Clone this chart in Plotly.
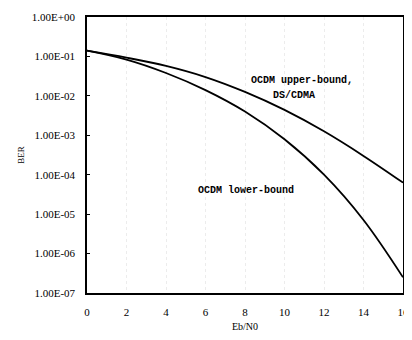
import plotly.graph_objects as go

ebno = [0, 2, 4, 6, 8, 10, 12, 14, 16]
upper_ber = [1.4e-1, 9.3e-2, 5.75e-2, 3.0e-2, 1.26e-2, 4.4e-3, 1.26e-3, 3.0e-4, 6.3e-5]
lower_ber = [1.4e-1, 8.3e-2, 3.8e-2, 1.4e-2, 4.0e-3, 7.9e-4, 1.0e-4, 7.1e-6, 2.5e-7]

y_tickvals = [1e0, 1e-1, 1e-2, 1e-3, 1e-4, 1e-5, 1e-6, 1e-7]
y_ticktext = ["1.00E+00", "1.00E-01", "1.00E-02", "1.00E-03",
              "1.00E-04", "1.00E-05", "1.00E-06", "1.00E-07"]
x_tickvals = [0, 2, 4, 6, 8, 10, 12, 14, 16]

fig = go.Figure()
fig.add_trace(go.Scatter(x=ebno, y=upper_ber, mode="lines",
                         line=dict(color="black", width=1.8, shape="spline"),
                         name="OCDM upper-bound, DS/CDMA"))
fig.add_trace(go.Scatter(x=ebno, y=lower_ber, mode="lines",
                         line=dict(color="black", width=1.8, shape="spline"),
                         name="OCDM lower-bound"))

serif = "Liberation Serif"
mono = "Liberation Mono"

# page body keeps an 8px default margin, so the figure is sized to fill the rest
fig.update_layout(
    width=404, height=332,
    margin=dict(l=79, r=3, t=5, b=47),
    paper_bgcolor="white", plot_bgcolor="white",
    showlegend=False,
    font=dict(family=serif, color="black", size=11),
    xaxis=dict(range=[0, 16], tickvals=x_tickvals, showline=True, linecolor="black",
               linewidth=1.5, mirror=True, ticks="", showgrid=True,
               gridcolor="#ececec", griddash="dot", gridwidth=1, zeroline=False,
               ticklabelstandoff=8, ticklabeloverflow="allow",
               title=dict(text="Eb/N0", font=dict(family=serif, size=10), standoff=6)),
    yaxis=dict(type="log", range=[-7, 0], tickvals=y_tickvals, ticktext=y_ticktext,
               showline=True, linecolor="black", linewidth=1.5, mirror=True,
               ticks="inside", ticklen=3, tickcolor="black",
               showgrid=False, zeroline=False, ticklabelstandoff=8,
               ticklabeloverflow="allow",
               title=dict(text="BER", font=dict(family=serif, size=9), standoff=6)),
)

fig.add_annotation(x=10.9, y=-1.6, xref="x", yref="y", text="<b>OCDM upper-bound,</b>",
                   showarrow=False, font=dict(family=mono, size=10, color="black"))
fig.add_annotation(x=10.5, y=-2.0, xref="x", yref="y", text="<b>DS/CDMA</b>",
                   showarrow=False, font=dict(family=mono, size=10, color="black"))
fig.add_annotation(x=8.05, y=-4.4, xref="x", yref="y", text="<b>OCDM lower-bound</b>",
                   showarrow=False, font=dict(family=mono, size=10, color="black"))

fig.write_html("out.html")
